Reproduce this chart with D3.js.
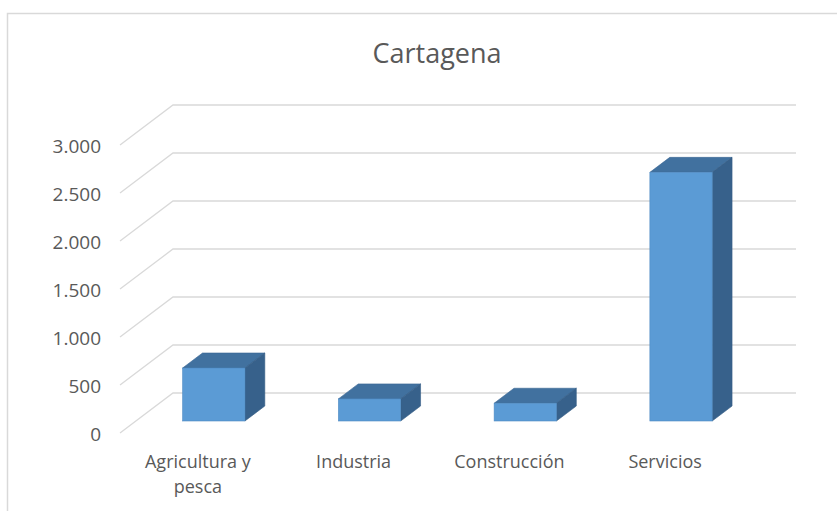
<!DOCTYPE html>
<html>
<head>
<meta charset="utf-8">
<script src="https://cdn.jsdelivr.net/npm/d3@7"></script>
<style>
  body { margin: 0; background: #fff; }
  text { font-family: "Open Sans", "Noto Sans", sans-serif; fill: #595959; }
</style>
</head>
<body>
<svg width="837" height="511"></svg>
<script>
// datos
var categories = ["Agricultura y pesca", "Industria", "Construcción", "Servicios"];
var values = [552, 230, 185, 2590];
var ticks = [0, 500, 1000, 1500, 2000, 2500, 3000];
var title = "Cartagena";

var svg = d3.select("svg"),
    width = +svg.attr("width"),
    height = +svg.attr("height");

// vista 3D oblicua: profundidad total del suelo
var depthX = 53, depthY = -40;
var z0 = 0.3, z1 = 0.675;   // la barra ocupa esta franja de profundidad

var locale = d3.formatLocale({ decimal: ",", thousands: ".", grouping: [3], currency: ["", " €"] });
var fmt = locale.format(",d");

var y = d3.scaleLinear()
    .domain([0, 3000])
    .range([433, 145]);

var x = d3.scaleBand()
    .domain(categories)
    .range([120, 743])
    .paddingInner(0.6)
    .paddingOuter(0.3);

// borde del area del grafico
svg.append("rect")
    .attr("x", 7.5)
    .attr("y", 13.5)
    .attr("width", 900)
    .attr("height", 600)
    .attr("fill", "none")
    .attr("stroke", "#d9d9d9")
    .attr("stroke-width", 1.5);

svg.append("text")
    .attr("x", 437)
    .attr("y", 63)
    .attr("text-anchor", "middle")
    .style("font-size", "27px")
    .text(title);

// lineas de cuadricula (pared izquierda + pared del fondo)
var grid = svg.append("g").attr("class", "grid");
grid.selectAll("path")
  .data(ticks)
  .enter().append("path")
    .attr("fill", "none")
    .attr("stroke", "#d9d9d9")
    .attr("stroke-width", 1.3)
    .attr("d", function(d) {
      var fx = x.range()[0], fy = y(d);
      return "M" + fx + "," + fy +
             "L" + (fx + depthX) + "," + (fy + depthY) +
             "L" + (x.range()[1] + depthX) + "," + (fy + depthY);
    });

svg.append("g")
  .selectAll("text")
  .data(ticks)
  .enter().append("text")
    .attr("x", 101)
    .attr("y", function(d) { return y(d) + 1; })
    .attr("text-anchor", "end")
    .attr("dy", "0.35em")
    .style("font-size", "19px")
    .text(function(d) { return fmt(d); });

// barras
var ddx = depthX * (z1 - z0), ddy = depthY * (z1 - z0);
var bars = svg.append("g")
  .selectAll("g")
  .data(categories.map(function(c, i) { return { name: c, value: values[i] }; }))
  .enter().append("g");

function geom(d) {
  var x0 = x(d.name) + depthX * z0,
      x1 = x0 + x.bandwidth(),
      yt = y(d.value) + depthY * z0,
      yb = y(0) + depthY * z0;
  return { x0: x0, x1: x1, yt: yt, yb: yb };
}

bars.append("polygon")
    .attr("fill", "#41719f")
    .attr("stroke", "#3a6794")
    .attr("stroke-width", 0.6)
    .attr("points", function(d) {
      var g = geom(d);
      return [[g.x0, g.yt], [g.x1, g.yt], [g.x1 + ddx, g.yt + ddy], [g.x0 + ddx, g.yt + ddy]].join(" ");
    });

bars.append("polygon")
    .attr("fill", "#37618b")
    .attr("stroke", "#345c84")
    .attr("stroke-width", 0.6)
    .attr("points", function(d) {
      var g = geom(d);
      return [[g.x1, g.yt], [g.x1 + ddx, g.yt + ddy], [g.x1 + ddx, g.yb + ddy], [g.x1, g.yb]].join(" ");
    });

bars.append("rect")
    .attr("fill", "#5b9bd5")
    .attr("stroke", "#4f8bc3")
    .attr("stroke-width", 0.6)
    .attr("x", function(d) { return geom(d).x0; })
    .attr("y", function(d) { return geom(d).yt; })
    .attr("width", x.bandwidth())
    .attr("height", function(d) { var g = geom(d); return g.yb - g.yt; });

// etiquetas de categoria, con ajuste de linea
var labels = svg.append("g")
  .selectAll("text")
  .data(categories)
  .enter().append("text")
    .attr("x", function(d) { return x(d) + x.bandwidth() / 2; })
    .attr("y", 468)
    .attr("text-anchor", "middle")
    .style("font-size", "18px")
    .each(function(d) { wrap(d3.select(this), d, x.step() * 0.85); });

function wrap(text, str, maxW) {
  var words = str.split(" "), line = [], n = 0;
  var cx = text.attr("x");
  var tspan = text.append("tspan").attr("x", cx).attr("dy", 0);
  words.forEach(function(w) {
    line.push(w);
    tspan.text(line.join(" "));
    if (tspan.node().getComputedTextLength() > maxW && line.length > 1) {
      line.pop();
      tspan.text(line.join(" "));
      line = [w];
      n++;
      tspan = text.append("tspan").attr("x", cx).attr("dy", "1.4em").text(w);
    }
  });
}
</script>
</body>
</html>
